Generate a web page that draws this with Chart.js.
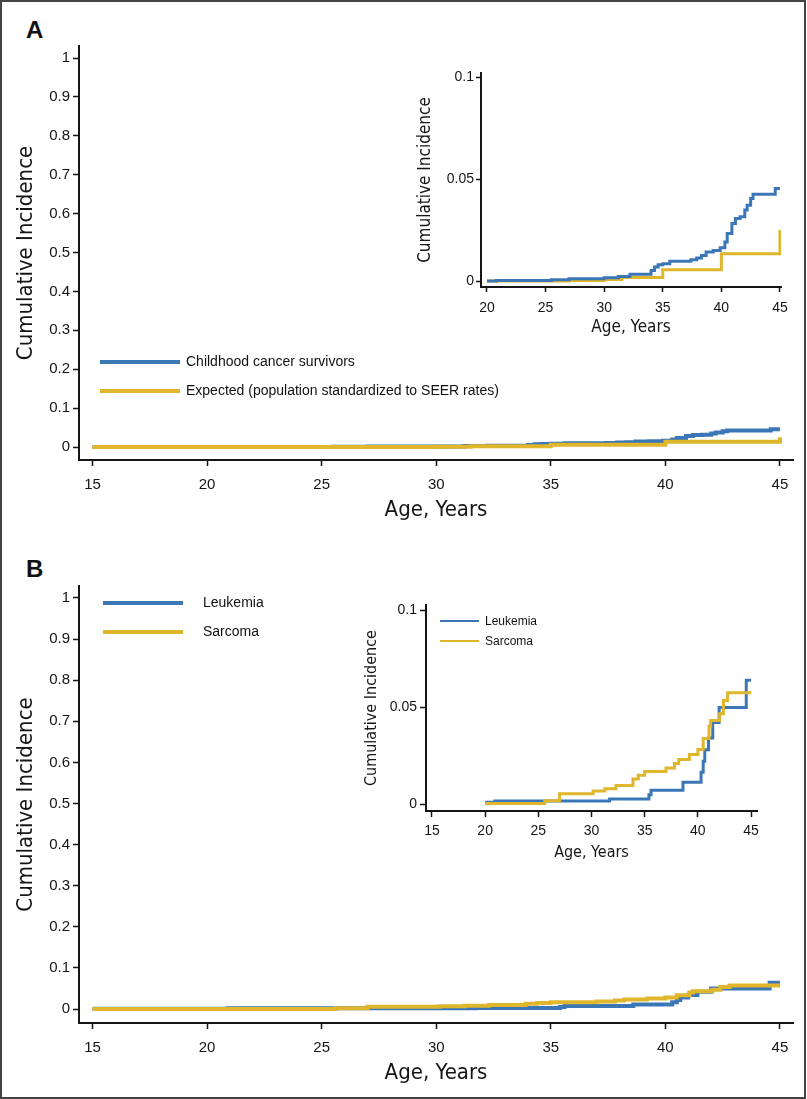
<!DOCTYPE html>
<html>
<head>
<meta charset="utf-8">
<title>Cumulative incidence</title>
<script src="https://cdn.jsdelivr.net/npm/chart.js@4.4.1/dist/chart.umd.min.js"></script>
<style>
  body { margin: 0; background: #fff; }
  #page { position: relative; width: 807px; height: 1099px; overflow: hidden; background: #fff;
          font-family: 'Liberation Sans', Arial, sans-serif; color: #111; }
  #frame { position: absolute; left: 0; top: 0; width: 806px; height: 1099px; box-sizing: border-box;
           border: 2px solid #444; pointer-events: none; }
  canvas { position: absolute; }
  .panel { position: absolute; left: 26px; font: bold 24px 'Liberation Sans', Arial, sans-serif; line-height: 24px; }
  .swatch { position: absolute; }
  .legtext { position: absolute; white-space: nowrap; }
</style>
</head>
<body>
<div id="page">
  <div class="panel" style="top:18px">A</div>
  <div class="panel" style="top:557px">B</div>
  <canvas id="mainA" width="807" height="540" style="left:0;top:0"></canvas>
  <canvas id="insetA" width="400" height="290" style="left:400px;top:60px"></canvas>
  <canvas id="mainB" width="807" height="559" style="left:0;top:540px"></canvas>
  <canvas id="insetB" width="460" height="280" style="left:340px;top:590px"></canvas>
  <div id="legends"></div>
  <div id="frame"></div>
</div>
<script>
// panel A: childhood cancer survivors vs expected
const survivorName = 'Childhood cancer survivors';
const survivorAges = [20, 20.8, 25.5, 27, 30, 31.2, 32.2, 34, 34.3, 34.6, 35, 35.6, 37.4, 37.9, 38.3, 38.7, 39.3, 39.9, 40.3, 40.5, 40.9, 41.2, 41.6, 42, 42.2, 42.5, 42.7, 44.6, 45];
const survivorRisk = [0, 0.0003, 0.0007, 0.0011, 0.0016, 0.0023, 0.0034, 0.0052, 0.0069, 0.008, 0.0085, 0.0097, 0.0105, 0.0113, 0.0125, 0.0143, 0.015, 0.0164, 0.0192, 0.0233, 0.0282, 0.0307, 0.0315, 0.0348, 0.0372, 0.0405, 0.0426, 0.0454, 0.0454];

const expectedName = 'Expected (population standardized to SEER rates)';
const expectedAges = [20, 27, 30, 31.5, 35, 40, 45, 45];
const expectedRisk = [0, 0.0003, 0.0008, 0.0018, 0.0056, 0.0134, 0.0134, 0.025];

// panel B: leukemia vs sarcoma
const leukemiaName = 'Leukemia';
const leukemiaAges = [20, 20.9, 31.7, 35.4, 35.6, 38.6, 40.3, 40.5, 40.65, 41, 41.4, 42, 44.55, 45];
const leukemiaRisk = [0.0009, 0.0016, 0.0026, 0.0048, 0.0071, 0.0112, 0.0164, 0.022, 0.028, 0.034, 0.042, 0.0497, 0.0638, 0.0638];

const sarcomaName = 'Sarcoma';
const sarcomaAges = [20, 25.6, 27, 30.15, 31.25, 32.3, 33.9, 34.4, 35, 37, 37.8, 38.2, 39.2, 40, 40.5, 41.05, 41.2, 42.05, 42.4, 42.8, 45];
const sarcomaRisk = [0.0003, 0.0017, 0.0053, 0.0067, 0.0079, 0.0095, 0.0129, 0.0148, 0.0167, 0.0186, 0.0209, 0.0229, 0.0255, 0.0281, 0.0338, 0.0402, 0.0431, 0.0466, 0.0534, 0.0574, 0.0574];

// main plots start the curves at this age
const mainStartAge = 15;

const mainXTicks = [15, 20, 25, 30, 35, 40, 45];
const mainYTicks = [0, 0.1, 0.2, 0.3, 0.4, 0.5, 0.6, 0.7, 0.8, 0.9, 1];
const insetAXTicks = [20, 25, 30, 35, 40, 45];
const insetBXTicks = [15, 20, 25, 30, 35, 40, 45];
const insetYTicks = [0, 0.05, 0.1];

const yTitle = 'Cumulative Incidence';
const xTitle = 'Age, Years';

const blue = '#3b77b7';
const yellow = '#dfb62c';
const ink = '#151515';
const plainFamily = "'Liberation Sans', Arial, sans-serif";
const narrowFamily = "'Liberation Sans Narrow', 'DejaVu Sans Condensed', sans-serif";

function puntos(ages, risk, start) {
    const pts = ages.map((a, i) => ({ x: a, y: risk[i] }));
    if (start !== undefined) pts.unshift({ x: start, y: risk[0] });
    return pts;
}

function serie(label, ages, risk, color, width, start, order) {
    return {
        label: label,
        data: puntos(ages, risk, start),
        borderColor: color,
        borderWidth: width,
        stepped: 'before',
        pointRadius: 0,
        fill: false,
        order: order
    };
}

function desenhar(id, c) {
    const ctx = document.getElementById(id).getContext('2d');
    return new Chart(ctx, {
        type: 'line',
        data: { datasets: c.datasets },
        options: {
            responsive: false,
            animation: false,
            devicePixelRatio: 1,
            layout: { padding: c.pad },
            plugins: { legend: { display: false }, tooltip: { enabled: false } },
            scales: {
                x: {
                    type: 'linear',
                    min: c.xMin,
                    max: c.xMax,
                    afterBuildTicks: s => { s.ticks = c.xTicks.map(v => ({ value: v })); },
                    afterFit: s => { s.height = c.xHeight; },
                    border: { display: true, color: ink, width: c.axisWidth },
                    grid: { display: true, drawOnChartArea: false, drawTicks: true, tickLength: c.tickLen, tickWidth: 1.5, tickColor: ink },
                    ticks: { color: ink, font: { family: plainFamily, size: c.tickSize }, padding: c.xTickPad, maxRotation: 0, autoSkip: false, callback: v => String(v) },
                    title: { display: true, text: xTitle, color: ink, font: { family: narrowFamily, size: c.titleSize }, padding: { top: 0, bottom: c.xTitlePad } }
                },
                y: {
                    type: 'linear',
                    min: c.yMin,
                    max: c.yMax,
                    afterBuildTicks: s => { s.ticks = c.yTicks.map(v => ({ value: v })); },
                    afterFit: s => { s.width = c.yWidth; },
                    border: { display: true, color: ink, width: c.axisWidth },
                    grid: { display: true, drawOnChartArea: false, drawTicks: true, tickLength: c.tickLen, tickWidth: 1.5, tickColor: ink },
                    ticks: { color: ink, font: { family: plainFamily, size: c.tickSize }, padding: c.yTickPad, autoSkip: false, callback: v => String(v) },
                    title: { display: true, text: yTitle, color: ink, font: { family: narrowFamily, size: c.titleSize }, padding: { top: c.yTitlePad, bottom: 0 } }
                }
            }
        }
    });
}

const mainBase = {
    xMin: 14.41, xMax: 45.57, xTicks: mainXTicks, yTicks: mainYTicks,
    yWidth: 79, tickLen: 6, axisWidth: 2, tickSize: 15, titleSize: 22,
    xTickPad: 10, yTickPad: 3, yTitlePad: 13
};

desenhar('mainA', Object.assign({}, mainBase, {
    datasets: [
        serie(survivorName, survivorAges, survivorRisk, blue, 4, mainStartAge, 1),
        serie(expectedName, expectedAges, expectedRisk, yellow, 4, mainStartAge, 0)
    ],
    yMin: -0.0334, yMax: 1.031,
    pad: { top: 46, right: 14, left: 0, bottom: 0 },
    xHeight: 80, xTitlePad: 17
}));

desenhar('mainB', Object.assign({}, mainBase, {
    datasets: [
        serie(leukemiaName, leukemiaAges, leukemiaRisk, blue, 4, mainStartAge, 1),
        serie(sarcomaName, sarcomaAges, sarcomaRisk, yellow, 4, mainStartAge, 0)
    ],
    yMin: -0.034, yMax: 1.029,
    pad: { top: 46, right: 14, left: 0, bottom: 0 },
    xHeight: 76, xTitlePad: 13
}));

desenhar('insetA', {
    datasets: [
        serie(survivorName, survivorAges, survivorRisk, blue, 3, undefined, 0),
        serie(expectedName, expectedAges, expectedRisk, yellow, 3, undefined, 1)
    ],
    xMin: 19.49, xMax: 45.09, yMin: -0.0029, yMax: 0.102,
    xTicks: insetAXTicks, yTicks: insetYTicks,
    pad: { top: 13, right: 19, left: 0, bottom: 0 },
    yWidth: 81, xHeight: 63, tickLen: 5, axisWidth: 2, tickSize: 14, titleSize: 17,
    xTickPad: 8, yTickPad: 2, yTitlePad: 15, xTitlePad: 12
});

desenhar('insetB', {
    datasets: [
        serie(leukemiaName, leukemiaAges, leukemiaRisk, blue, 3, undefined, 1),
        serie(sarcomaName, sarcomaAges, sarcomaRisk, yellow, 3, undefined, 0)
    ],
    xMin: 14.44, xMax: 45.56, yMin: -0.0036, yMax: 0.1026,
    xTicks: insetBXTicks, yTicks: insetYTicks,
    pad: { top: 15, right: 43, left: 0, bottom: 0 },
    yWidth: 86, xHeight: 59, tickLen: 6, axisWidth: 2, tickSize: 14, titleSize: 16,
    xTickPad: 6, yTickPad: 3, yTitlePad: 22, xTitlePad: 8
});

// legends drawn as html text next to short line samples
function legenda(items, lineX, lineW, thick, textX, fontSize) {
    const box = document.getElementById('legends');
    items.forEach(it => {
        const sw = document.createElement('div');
        sw.className = 'swatch';
        sw.style.left = lineX + 'px';
        sw.style.top = (it.y - thick / 2) + 'px';
        sw.style.width = lineW + 'px';
        sw.style.height = thick + 'px';
        sw.style.background = it.color;
        box.appendChild(sw);
        const tx = document.createElement('div');
        tx.className = 'legtext';
        tx.textContent = it.label;
        tx.style.left = textX + 'px';
        tx.style.fontSize = fontSize + 'px';
        tx.style.lineHeight = (fontSize * 1.2) + 'px';
        tx.style.top = (it.y - fontSize * 0.62) + 'px';
        box.appendChild(tx);
    });
}

legenda([{ label: survivorName, color: blue, y: 362 }, { label: expectedName, color: yellow, y: 391 }], 100, 80, 4, 186, 14);
legenda([{ label: leukemiaName, color: blue, y: 603 }, { label: sarcomaName, color: yellow, y: 632 }], 103, 80, 4, 203, 14);
legenda([{ label: leukemiaName, color: blue, y: 621 }, { label: sarcomaName, color: yellow, y: 641 }], 440, 39, 2.5, 485, 12);
</script>
</body>
</html>
